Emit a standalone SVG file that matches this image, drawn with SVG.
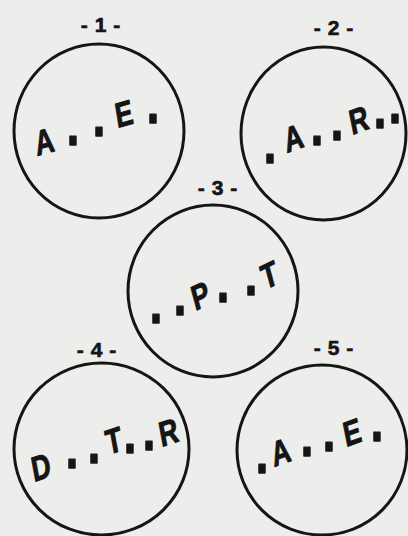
<svg xmlns="http://www.w3.org/2000/svg" width="408" height="536" viewBox="0 0 408 536">
<style>
.bg{fill:#ededeb}
.c{fill:none;stroke:#151515;stroke-width:3}
.lab{font-family:"Liberation Sans",Arial,sans-serif;font-weight:bold;font-size:21px;fill:#151515;stroke:#151515;stroke-width:0.6;text-anchor:middle;letter-spacing:7px}
.t{font-family:"Liberation Sans",Arial,sans-serif;font-weight:bold;font-size:35px;fill:#151515;stroke:#151515;stroke-width:1;stroke-linejoin:round;text-anchor:middle}
.d{font-size:60px;stroke-width:1.4}
</style>
<rect class="bg" x="0" y="0" width="408" height="536"/>
<g id="connectors"></g>
<g id="node1">
<ellipse class="c" cx="99" cy="131" rx="85" ry="87"/>
<text class="lab" x="104" y="32">-1-</text>
<text class="t" transform="scale(0.75,1)"><tspan x="62" y="156" rotate="-12">A</tspan><tspan class="d" x="97.3" y="145">.</tspan><tspan class="d" x="132" y="136">.</tspan><tspan x="168" y="128" rotate="-12">E</tspan><tspan class="d" x="204" y="123">.</tspan></text>
</g>
<g id="node2">
<ellipse class="c" cx="323.5" cy="133.5" rx="82.5" ry="86.5"/>
<text class="lab" x="337" y="35">-2-</text>
<text class="t" transform="scale(0.75,1)"><tspan class="d" x="360" y="163">.</tspan><tspan x="395" y="153" rotate="-15">A</tspan><tspan class="d" x="422.7" y="145">.</tspan><tspan class="d" x="449.3" y="140">.</tspan><tspan x="482" y="135" rotate="-15">R</tspan><tspan class="d" x="506.7" y="128">.</tspan><tspan class="d" x="526.7" y="123">.</tspan></text>
</g>
<g id="node3">
<ellipse class="c" cx="213" cy="291" rx="85" ry="86"/>
<text class="lab" x="221" y="195">-3-</text>
<text class="t" transform="scale(0.75,1)"><tspan class="d" x="208" y="323">.</tspan><tspan class="d" x="240" y="315">.</tspan><tspan x="272" y="311" rotate="-20">P</tspan><tspan class="d" x="297.3" y="302">.</tspan><tspan class="d" x="334.7" y="295">.</tspan><tspan x="364" y="290" rotate="-20">T</tspan></text>
</g>
<g id="node4">
<ellipse class="c" cx="101.5" cy="449" rx="87.5" ry="86"/>
<text class="lab" x="100" y="357">-4-</text>
<text class="t" transform="scale(0.75,1)"><tspan x="58" y="482" rotate="-14">D</tspan><tspan class="d" x="96" y="468">.</tspan><tspan class="d" x="125.3" y="463">.</tspan><tspan x="155" y="455" rotate="-14">T</tspan><tspan class="d" x="173.3" y="453">.</tspan><tspan class="d" x="198.7" y="450">.</tspan><tspan x="228" y="447" rotate="-14">R</tspan></text>
</g>
<g id="node5">
<ellipse class="c" cx="322" cy="450" rx="85" ry="85"/>
<text class="lab" x="337" y="355">-5-</text>
<text class="t" transform="scale(0.75,1)"><tspan class="d" x="349.3" y="473">.</tspan><tspan x="378" y="467" rotate="-15">A</tspan><tspan class="d" x="409.3" y="456">.</tspan><tspan class="d" x="438.7" y="451">.</tspan><tspan x="473" y="447" rotate="-15">E</tspan><tspan class="d" x="502.7" y="441">.</tspan></text>
</g>
</svg>
